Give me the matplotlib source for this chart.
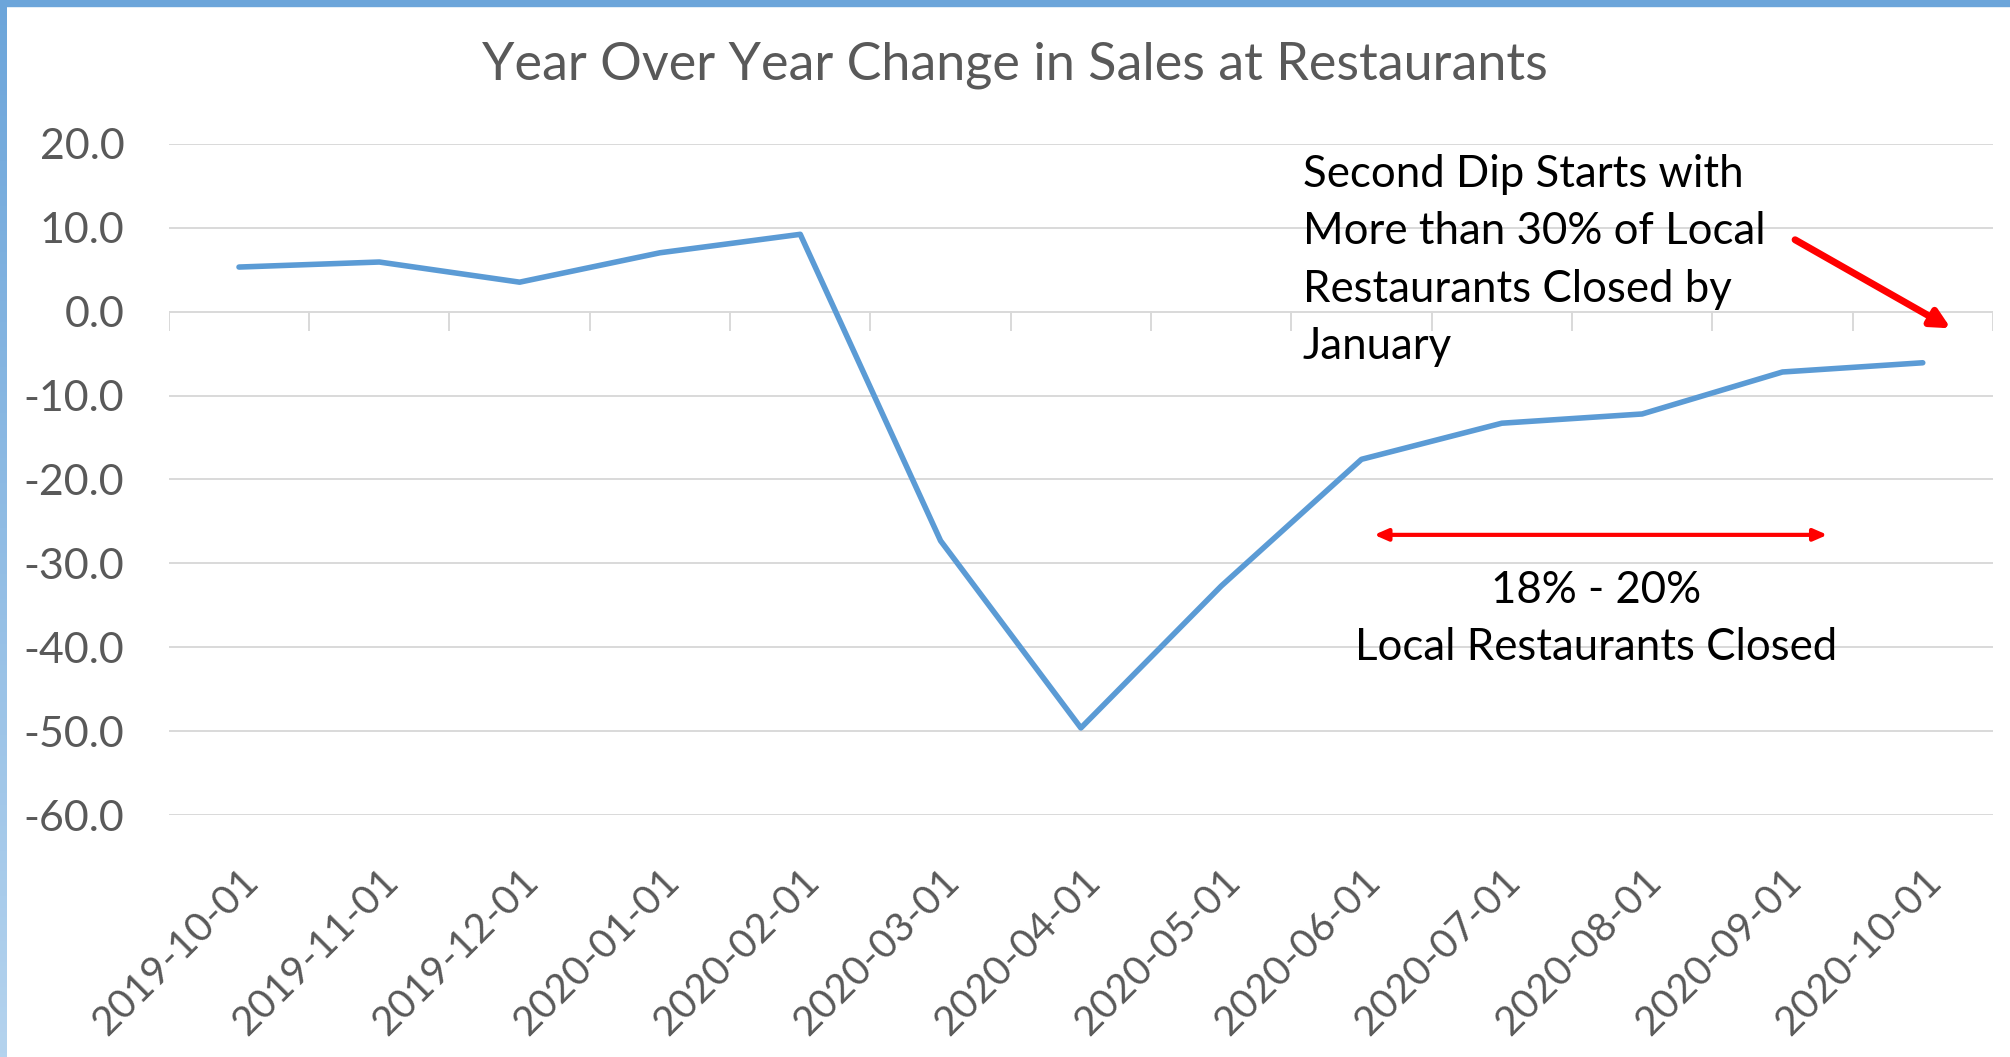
import numpy as np
import matplotlib
matplotlib.use("Agg")
import matplotlib.pyplot as plt
from matplotlib.patches import Rectangle

plt.rcParams['font.family'] = ['Lato', 'DejaVu Sans']

# Data
months = ["2019-10-01", "2019-11-01", "2019-12-01", "2020-01-01", "2020-02-01",
          "2020-03-01", "2020-04-01", "2020-05-01", "2020-06-01", "2020-07-01",
          "2020-08-01", "2020-09-01", "2020-10-01"]
yoy_change = [5.3, 5.9, 3.5, 7.0, 9.2, -27.3, -49.6, -32.7, -17.6, -13.3, -12.2, -7.2, -6.1]
y_ticks = [20, 10, 0, -10, -20, -30, -40, -50, -60]

title = "Year Over Year Change in Sales at Restaurants"
note_dip = "Second Dip Starts with\nMore than 30% of Local\nRestaurants Closed by\nJanuary"
note_range = "18% - 20%\nLocal Restaurants Closed"

line_color = "#5B9BD5"
grid_color = "#D9D9D9"
label_color = "#595959"

fig = plt.figure(figsize=(20.10, 10.57), dpi=100)
ax = fig.add_axes([0.084, 0.2287, 0.9075, 0.6354])

x = np.arange(len(months))
ax.plot(x, yoy_change, color=line_color, lw=4.0, solid_joinstyle="round",
        solid_capstyle="round", zorder=3)

ax.set_xlim(-0.5, len(months) - 0.5)
ax.set_ylim(-60, 20)
ax.set_yticks(y_ticks)
ax.set_yticklabels([f"{v:.1f}" for v in y_ticks])
for v in y_ticks:
    ax.axhline(v, color=grid_color, lw=1.4, zorder=1)

# category boundary tick marks below the zero line
for b in np.arange(-0.5, len(months), 1.0):
    ax.plot([b, b], [0, -2.2], color=grid_color, lw=1.4, zorder=1)

ax.set_xticks(x)
ax.set_xticklabels(months, rotation=45, ha="right", rotation_mode="anchor")
ax.tick_params(axis="both", length=0, colors=label_color)
ax.tick_params(axis="y", pad=32, labelsize=31)
ax.tick_params(axis="x", pad=34, labelsize=29)
for s in ax.spines.values():
    s.set_visible(False)

fig.text(0.505, 0.938, title, ha="center", va="center", fontsize=37.5, color=label_color)

# annotations
ax.text(7.58, 6.1, note_dip, ha="left", va="center", fontsize=31.5, color="black",
        linespacing=1.5)
ax.annotate("", xy=(12.2, -2.0), xytext=(11.09, 8.55),
            arrowprops=dict(arrowstyle="-|>,head_length=1.1,head_width=0.55",
                            color="red", lw=5, shrinkA=0, shrinkB=0))
ax.annotate("", xy=(8.09, -26.6), xytext=(11.32, -26.6),
            arrowprops=dict(arrowstyle="<|-|>,head_length=0.8,head_width=0.35",
                            color="red", lw=3, shrinkA=0, shrinkB=0))
ax.text(9.67, -36.6, note_range, ha="center", va="center", fontsize=31.5,
        color="black", linespacing=1.5)

# blue frame on top and left edges
fig.patches.append(Rectangle((0, 1 - 6 / 1057), 1, 6 / 1057, transform=fig.transFigure,
                             color="#6CA5DA", zorder=10))
bax = fig.add_axes([0, 0, 6 / 2010, 1])
grad = np.linspace(0, 1, 256).reshape(-1, 1)
cmap = matplotlib.colors.LinearSegmentedColormap.from_list("edge", ["#6CA5DA", "#B4D3EE"])
bax.imshow(grad, aspect="auto", cmap=cmap)
bax.axis("off")

fig.savefig("out.png", dpi=100)
